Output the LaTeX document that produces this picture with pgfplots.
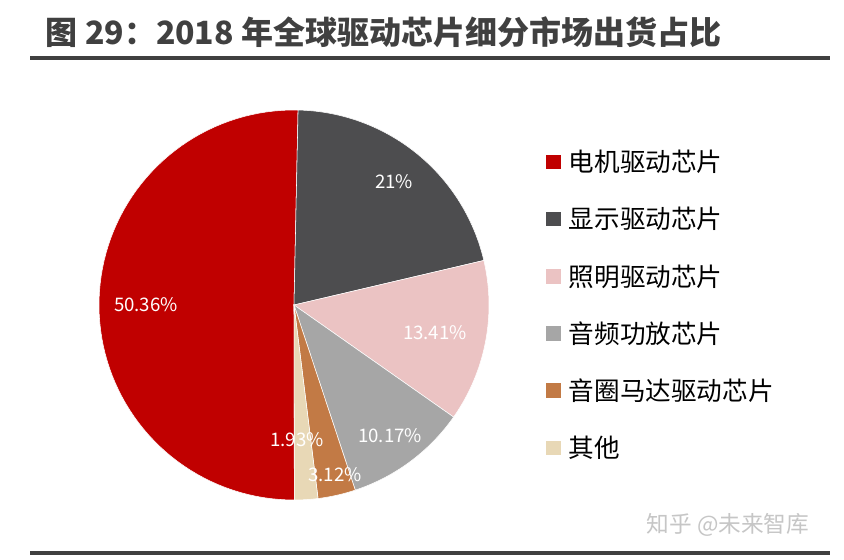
\documentclass[border=0pt]{standalone}
\usepackage{pgfplots}
\pgfplotsset{compat=1.18}
\usepackage{pgfplotstable}
\usepackage{fontspec}
\setmainfont{Noto Sans CJK SC}

\definecolor{cMotor}{HTML}{C00000}
\definecolor{cDisp}{HTML}{4D4D4F}
\definecolor{cLight}{HTML}{EBC3C3}
\definecolor{cAudio}{HTML}{A6A6A6}
\definecolor{cCoil}{HTML}{C27A45}
\definecolor{cOther}{HTML}{E8D8B6}
\definecolor{cTitle}{HTML}{404040}

% share of shipments (%), clockwise from the first slice
\pgfplotstableread{
share  color   name
50.36  cMotor  电机驱动芯片
21.00  cDisp   显示驱动芯片
13.41  cLight  照明驱动芯片
10.17  cAudio  音频功放芯片
3.12   cCoil   音圈马达驱动芯片
1.93   cOther  其他
}\slices

\begin{document}
\begin{tikzpicture}
\begin{axis}[
    x=0.75pt, y=0.75pt,
    xmin=0, xmax=844, ymin=0, ymax=560,
    hide axis, clip=false,
    legend style={at={(axis cs:546,410)}, anchor=north west,
                  draw=none, fill=none, inner sep=0pt,
                  font=\fontsize{19.2}{21}\selectfont,
                  row sep=25.2pt, column sep=6pt,
                  nodes={inner sep=0pt}, cells={anchor=west}},
    legend image code/.code={\fill[#1, draw=none] (0pt,-5.5pt) rectangle (11pt,5.5pt);},
  ]
\path[fill=white] (axis cs:0,0) rectangle (axis cs:844,560);

\def\cum{0}
\pgfplotsforeachungrouped \i in {0,...,5}{
  \pgfplotstablegetelem{\i}{share}\of\slices \let\s\pgfplotsretval
  \pgfplotstablegetelem{\i}{color}\of\slices \let\c\pgfplotsretval
  \pgfplotstablegetelem{\i}{name}\of\slices \let\n\pgfplotsretval
  \pgfmathsetmacro\a{270.1-3.6*\cum}
  \pgfmathsetmacro\b{270.1-3.6*(\cum+\s)}
  \edef\temp{\noexpand\addplot[fill=\c, draw=white, line width=0.4pt,
      domain=\b:\a, samples=80, variable=\noexpand\t]
      ({294+195*cos(\noexpand\t)}, {255+195*sin(\noexpand\t)})
      -- (axis cs:294,255) -- cycle;
      \noexpand\addlegendentry{\n}}
  \temp
  \pgfmathsetmacro\cum{\cum+\s}
}

\begin{scope}[every node/.style={text=white, font=\fontsize{14}{16}\selectfont}]
\node at (axis cs:146,255) {50.36\%};
\node at (axis cs:394,378) {21\%};
\node at (axis cs:435,227) {13.41\%};
\node at (axis cs:390,124) {10.17\%};
\node at (axis cs:335,85) {3.12\%};
\node at (axis cs:297,120) {1.93\%};
\end{scope}

\node[anchor=west, text=cTitle, font=\bfseries\fontsize{24}{26}\selectfont]
  at (axis cs:41,528) {图 29：2018 年全球驱动芯片细分市场出货占比};
\draw[cTitle, line width=2.6pt] (axis cs:30,502) -- (axis cs:830,502);
\draw[cTitle, line width=2.6pt] (axis cs:30,7) -- (axis cs:830,7);
\node[text=gray!45, font=\fontsize{17}{19}\selectfont, anchor=west]
  at (axis cs:642,35) {知乎 @未来智库};
\end{axis}
\end{tikzpicture}
\end{document}
